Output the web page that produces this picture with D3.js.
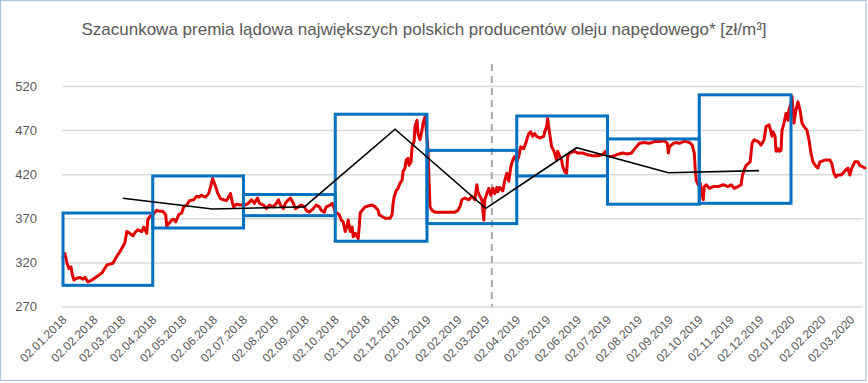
<!DOCTYPE html>
<html><head><meta charset="utf-8">
<script src="https://cdn.jsdelivr.net/npm/d3@7"></script>
<style>
body{margin:0;background:#fff}
svg{display:block}
text{font-family:"Liberation Sans",Arial,sans-serif}
</style>
</head><body>
<svg id="chart" width="868" height="383"></svg>
<script>
// ---------- DATA ----------
const chartTitle = "Szacunkowa premia lądowa największych polskich producentów oleju napędowego* [zł/m³]";
const startDate = "2018-01-02";           // day 0 of the daily series
const yTicks = [270, 320, 370, 420, 470, 520];
const xTickLabels = ["02.01.2018","02.02.2018","02.03.2018","02.04.2018","02.05.2018","02.06.2018",
  "02.07.2018","02.08.2018","02.09.2018","02.10.2018","02.11.2018","02.12.2018","02.01.2019",
  "02.02.2019","02.03.2019","02.04.2019","02.05.2019","02.06.2019","02.07.2019","02.08.2019",
  "02.09.2019","02.10.2019","02.11.2019","02.12.2019","02.01.2020","02.02.2020","02.03.2020"];

// days since 02.01.2018
const premiaDay = [0,2,4,6,8,9,11,14,17,20,22,25,29,34,39,44,47,50,54,57,60,62,64,67,70,73,75,79,81,84,85,87,90,94,97,100,103,104,109,111,113,116,119,121,124,127,131,134,136,139,143,146,148,150,153,155,158,161,164,168,169,171,174,178,181,182,186,189,192,195,197,201,204,207,211,214,216,218,221,223,226,228,231,233,236,239,242,244,247,251,254,257,259,262,264,268,270,272,273,275,277,279,281,283,285,286,288,290,291,293,296,297,298,300,303,306,310,313,316,317,320,323,328,330,331,332,334,336,338,340,341,343,344,346,347,349,350,352,353,355,356,358,360,361,363,364,366,368,370,373,380,386,393,396,398,400,403,407,410,413,415,416,418,420,422,423,425,427,429,431,433,435,436,438,441,443,445,447,449,451,453,455,457,459,462,464,467,469,471,473,475,478,482,483,485,486,488,490,492,495,496,500,501,503,505,506,508,513,516,521,526,531,536,541,544,546,550,555,561,566,570,572,575,578,583,588,593,598,603,606,607,608,612,615,618,622,625,628,631,633,634,635,637,639,640,642,643,645,648,652,657,662,667,670,673,677,680,681,683,685,687,689,691,693,697,700,703,705,708,710,711,712,714,715,717,718,720,721,723,725,727,728,730,731,733,735,737,739,741,743,746,748,750,752,755,757,759,764,769,771,773,775,777,780,782,785,787,789,791,794,797,799,801,804];
const premiaValue = [326,330,319,313,315,308,300,302,303,301,303,298,300,304,308,317,318,319,327,332,338,342,355,353,350,355,357,355,360,353,368,372,374,379,378,378,374,361,368,369,366,374,376,383,385,390,391,395,394,396,394,398,406,415,406,399,392,391,390,398,392,383,386,385,386,385,387,391,387,393,387,385,381,385,383,387,391,385,381,387,391,393,387,381,383,385,383,379,377,381,385,383,379,377,383,385,387,381,377,376,374,368,366,355,362,368,355,360,349,353,347,360,376,379,383,384,385,383,379,374,372,370,370,374,387,394,401,404,410,413,423,427,436,438,430,434,451,457,474,481,466,459,470,478,485,474,447,383,379,377,377,377,377,379,383,391,393,391,395,391,408,400,395,391,368,391,398,404,396,404,398,405,400,405,401,413,421,412,428,436,440,434,440,451,449,455,466,468,463,466,463,461,463,468,474,483,466,451,447,436,446,436,429,423,421,440,444,446,444,444,442,441,441,442,446,440,440,442,444,443,444,447,451,455,456,455,457,457,458,455,444,451,455,456,455,457,457,456,453,444,425,413,408,410,402,391,406,408,404,406,406,408,406,408,404,406,408,417,425,430,432,434,455,459,457,453,459,474,476,468,463,468,463,446,449,446,447,470,478,489,481,493,500,508,478,493,502,493,478,474,470,459,444,434,429,427,434,436,436,432,421,417,419,419,421,425,427,419,427,434,434,430,429,427];

// quarterly ranges (blue boxes)
const quarterStart = ["2018-01-02","2018-04-02","2018-07-02","2018-10-02","2019-01-02","2019-04-02","2019-07-02","2019-10-02"];
const quarterEnd   = ["2018-04-02","2018-07-02","2018-10-02","2019-01-02","2019-04-02","2019-07-02","2019-10-02","2020-01-02"];
const quarterMin   = [294, 359, 373, 344, 364, 418, 386, 387];
const quarterMax   = [376, 418, 397, 488, 447, 486, 460, 510];

// black trend line
const trendDates  = ["2018-03-03","2018-06-01","2018-09-01","2018-12-01","2019-03-02","2019-06-01","2019-09-01","2019-12-01"];
const trendValues = [392.7, 380.5, 383, 471, 381.3, 450, 421.7, 424];

// dashed marker
const markerDate = "2019-03-08";

// ---------- LAYOUT ----------
const svg = d3.select("#chart");
const parseISO = d3.timeParse("%Y-%m-%d");
const parseLbl = d3.timeParse("%d.%m.%Y");
const t0 = parseISO(startDate);

const x = d3.scaleTime()
  .domain([parseISO("2018-01-02"), parseISO("2020-01-02")])
  .range([63, 791]);
const y = d3.scaleLinear().domain([270, 520]).range([306.5, 86]);
const plotLeft = 62, plotRight = 863;

// outer frame
svg.append("rect").attr("x", 0.5).attr("y", 0.5).attr("width", 865.5).attr("height", 380)
  .attr("fill", "#fff").attr("stroke", "#A9C3DF").attr("stroke-width", 1.2);

// title
svg.append("text").attr("x", 424).attr("y", 35).attr("text-anchor", "middle")
  .attr("font-size", 17).attr("fill", "#595959").text(chartTitle);

// gridlines + y labels
const yAxis = d3.axisLeft(y).tickValues(yTicks).tickSize(-(plotRight - plotLeft)).tickPadding(25);
const gy = svg.append("g").attr("transform", `translate(${plotLeft},0)`).call(yAxis);
gy.select(".domain").remove();
gy.selectAll(".tick line").attr("stroke", "#D9D9D9").attr("stroke-width", 1.5);
gy.selectAll(".tick text").attr("font-size", 13).attr("fill", "#595959")
  .attr("font-family", '"Liberation Sans",Arial,sans-serif');

// x labels
const xDates = xTickLabels.map(parseLbl);
const xAxis = d3.axisBottom(x).tickValues(xDates).tickSize(0)
  .tickFormat((d, i) => xTickLabels[i]);
const gx = svg.append("g").attr("transform", `translate(0,${y(270)})`).call(xAxis);
gx.select(".domain").remove();
gx.selectAll(".tick text")
  .attr("font-size", 12).attr("fill", "#595959")
  .attr("font-family", '"Liberation Sans",Arial,sans-serif')
  .attr("text-anchor", "end")
  .attr("dy", null).attr("y", 0)
  .attr("transform", "translate(4,14) rotate(-45)");

// dashed marker
svg.append("line")
  .attr("x1", x(parseISO(markerDate))).attr("x2", x(parseISO(markerDate)))
  .attr("y1", 64).attr("y2", y(270))
  .attr("stroke", "#A6A6A6").attr("stroke-width", 2).attr("stroke-dasharray", "7,5");

// red daily line
const series = premiaDay.map((d, i) => ({date: d3.timeDay.offset(t0, d), v: premiaValue[i]}));
svg.append("path").datum(series)
  .attr("fill", "none").attr("stroke", "#E00000").attr("stroke-width", 3)
  .attr("stroke-linejoin", "round").attr("stroke-linecap", "round")
  .attr("d", d3.line().x(d => x(d.date)).y(d => y(d.v)));

// blue quarter boxes
svg.append("g").selectAll("rect").data(quarterStart).join("rect")
  .attr("x", (d) => x(parseISO(d)))
  .attr("width", (d, i) => x(parseISO(quarterEnd[i])) - x(parseISO(d)))
  .attr("y", (d, i) => y(quarterMax[i]))
  .attr("height", (d, i) => y(quarterMin[i]) - y(quarterMax[i]))
  .attr("fill", "none").attr("stroke", "#0070C0").attr("stroke-width", 3);

// black trend line
const trend = trendDates.map((d, i) => ({date: parseISO(d), v: trendValues[i]}));
svg.append("path").datum(trend)
  .attr("fill", "none").attr("stroke", "#000").attr("stroke-width", 1.6)
  .attr("d", d3.line().x(d => x(d.date)).y(d => y(d.v)));
</script>
</body></html>
